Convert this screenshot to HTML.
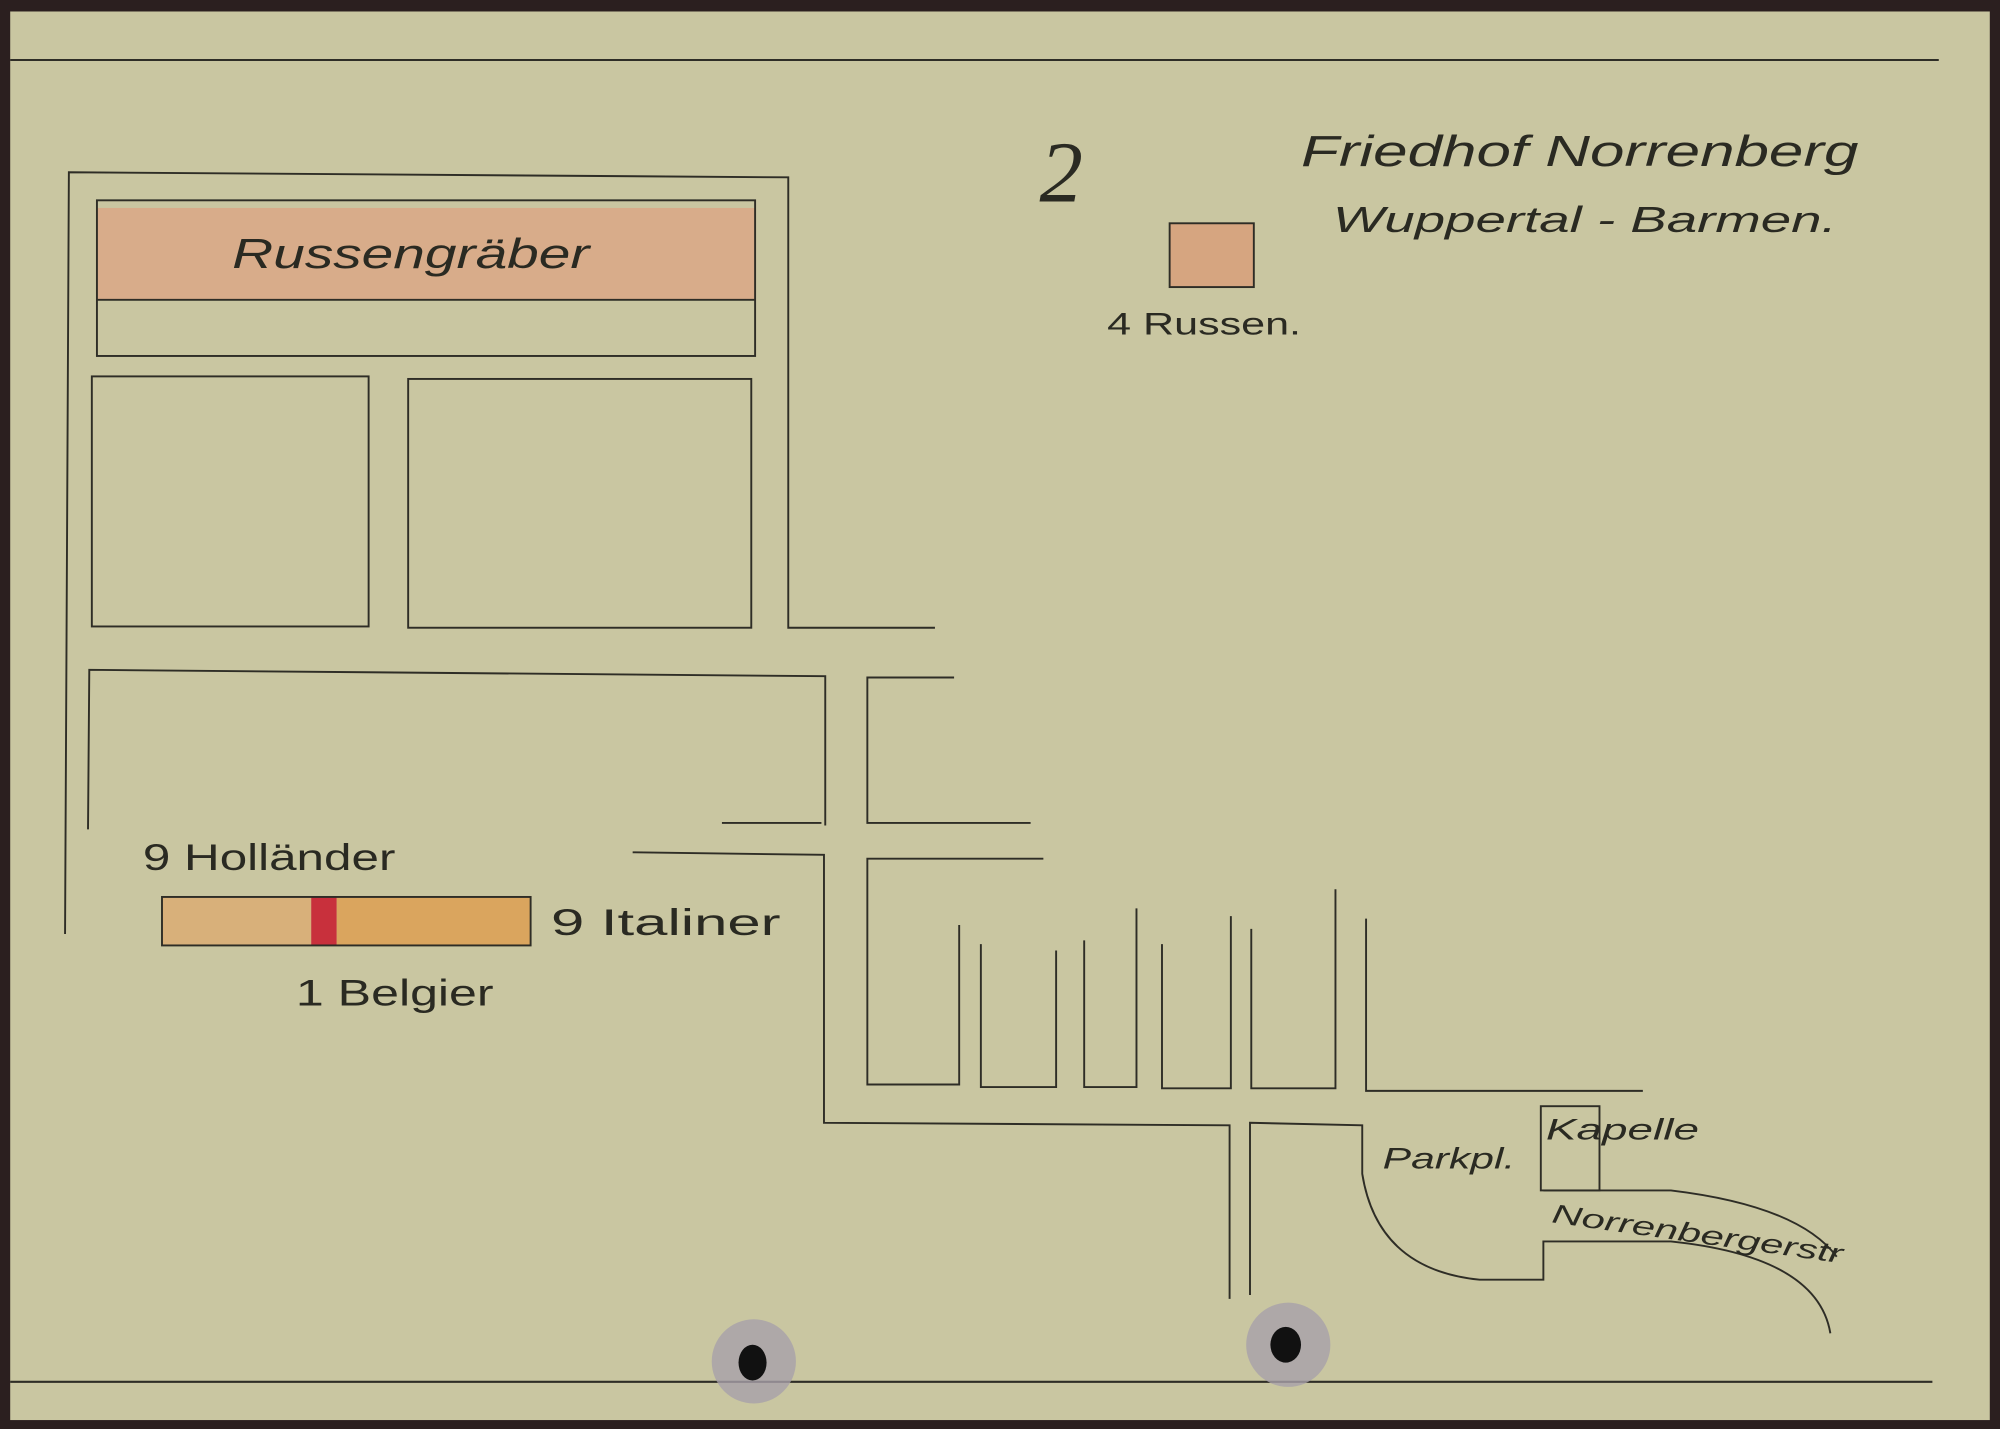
<!DOCTYPE html>
<html><head><meta charset="utf-8"><style>
html,body{margin:0;padding:0;background:#2a1e1e;}
svg{display:block}
text{font-family:"Liberation Sans",sans-serif;fill:#2a2a22;font-style:italic}
</style></head><body>
<svg width="2000" height="1429" viewBox="0 0 1568 1120" preserveAspectRatio="none" xmlns="http://www.w3.org/2000/svg">
<rect x="0" y="0" width="1568" height="1120" fill="#2b1f1f"/>
<rect x="8" y="9" width="1552" height="1104" fill="#c9c6a1"/>
<g stroke="#2e2d26" stroke-width="1.6" fill="none">
<line x1="8" y1="47" x2="1520" y2="47"/>
<line x1="8" y1="1083" x2="1515" y2="1083"/>
</g>
<rect x="76" y="163" width="516" height="72" fill="#d8ac8a"/>
<rect x="917" y="175" width="66" height="50" fill="#d6a580"/>
<rect x="127" y="703" width="117" height="38" fill="#d8b07a"/>
<rect x="244" y="703" width="20" height="38" fill="#c8303c"/>
<rect x="264" y="703" width="152" height="38" fill="#daa55e"/>
<g stroke="#2e2d26" stroke-width="1.5" fill="none">
<polyline points="51,732 54,135 618,139 618,492 733,492"/>
<rect x="76" y="157" width="516" height="122"/>
<line x1="76" y1="235" x2="592" y2="235"/>
<rect x="72" y="295" width="217" height="196"/>
<rect x="320" y="297" width="269" height="195"/>
<polyline points="69,650 70,525 647,530 647,647"/>
<polyline points="566,645 644,645"/>
<polyline points="748,531 680,531 680,645 808,645"/>
<polyline points="496,668 646,670 646,880 964,882 964,1018"/>
<polyline points="818,673 680,673 680,850 752,850 752,725"/>
<polyline points="769,740 769,852 828,852 828,745"/>
<polyline points="850,737 850,852 891,852 891,712"/>
<polyline points="911,740 911,853 965,853 965,718"/>
<polyline points="981,728 981,853 1047,853 1047,697"/>
<polyline points="1071,720 1071,855 1288,855"/>
<path d="M980,1015 L980,880 L1068,882 L1068,920 Q1080,995 1160,1003 L1210,1003 L1210,973 L1310,973 Q1425,985 1435,1045"/>
<path d="M1210,933 L1310,933 Q1410,945 1440,985"/>
<rect x="1208" y="867" width="46" height="66"/>
<rect x="917" y="175" width="66" height="50"/>
<rect x="127" y="703" width="289" height="38"/>
</g>
<text x="182" y="210" font-size="33" textLength="280" lengthAdjust="spacingAndGlyphs">Russengräber</text>
<text x="815" y="158" font-size="68" style="font-family:'Liberation Serif',serif">2</text>
<text x="1020" y="130" font-size="34" textLength="437" lengthAdjust="spacingAndGlyphs">Friedhof Norrenberg</text>
<text x="1045" y="182" font-size="28" textLength="395" lengthAdjust="spacingAndGlyphs">Wuppertal - Barmen.</text>
<text x="868" y="262" font-size="25" style="font-style:normal" textLength="152" lengthAdjust="spacingAndGlyphs">4 Russen.</text>
<text x="112" y="682" font-size="29" style="font-style:normal" textLength="198" lengthAdjust="spacingAndGlyphs">9 Holländer</text>
<text x="432" y="733" font-size="29" style="font-style:normal" textLength="180" lengthAdjust="spacingAndGlyphs">9 Italiner</text>
<text x="232" y="788" font-size="29" style="font-style:normal" textLength="155" lengthAdjust="spacingAndGlyphs">1 Belgier</text>
<text x="1084" y="916" font-size="23" textLength="104" lengthAdjust="spacingAndGlyphs">Parkpl.</text>
<text x="1212" y="893" font-size="23" textLength="120" lengthAdjust="spacingAndGlyphs">Kapelle</text>
<text x="1216" y="958" font-size="21" transform="rotate(8 1216 958)" textLength="230" lengthAdjust="spacingAndGlyphs">Norrenbergerstr</text>
<circle cx="591" cy="1067" r="33" fill="#a7a0aa" opacity="0.8"/>
<ellipse cx="590" cy="1068" rx="11" ry="14" fill="#111"/>
<circle cx="1010" cy="1054" r="33" fill="#a7a0aa" opacity="0.8"/>
<ellipse cx="1008" cy="1054" rx="12" ry="14" fill="#111"/>
</svg>
</body></html>
